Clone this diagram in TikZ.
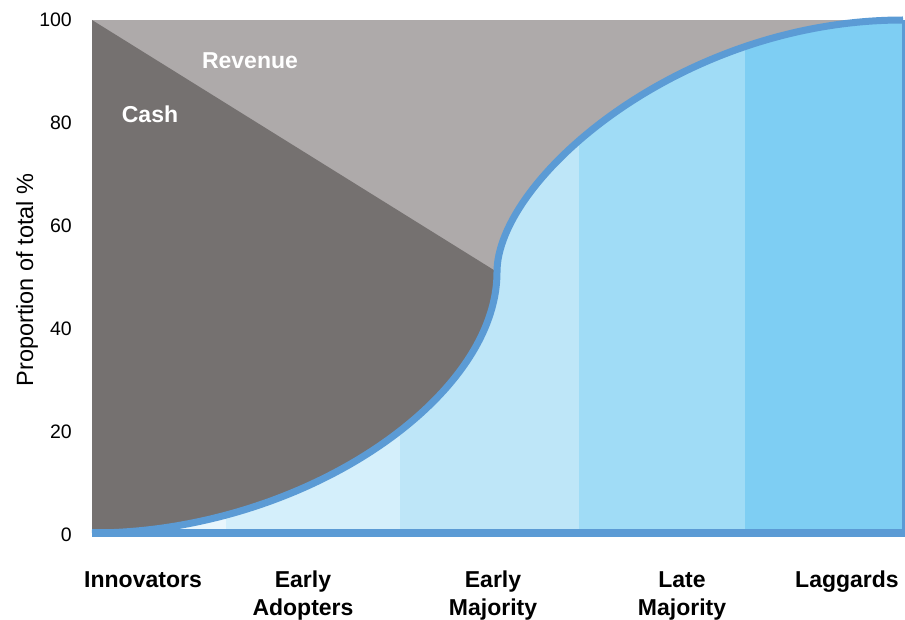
\documentclass[tikz,border=0pt]{standalone}
\usepackage{fontspec}
\setmainfont{Liberation Sans}
\definecolor{cashgray}{HTML}{757170}
\definecolor{revgray}{HTML}{AEAAAA}
\definecolor{curveblue}{HTML}{5B9BD5}
\definecolor{bandA}{HTML}{E9F6FC}
\definecolor{bandB}{HTML}{D4EFFB}
\definecolor{bandC}{HTML}{BEE6F8}
\definecolor{bandD}{HTML}{A0DCF6}
\definecolor{bandE}{HTML}{7ECEF3}
\begin{document}
\begin{tikzpicture}[x=1pt,y=-1pt,
    seglabel/.style={font=\bfseries\fontsize{23}{28}\selectfont,align=center,anchor=north,inner sep=0pt},
    ticklabel/.style={font=\fontsize{19.5}{22}\selectfont,anchor=east,inner sep=0pt},
    arealabel/.style={font=\bfseries\fontsize{23}{28}\selectfont,text=white,inner sep=0pt}]

    \useasboundingbox (0,0) rectangle (905,620);

    % revenue and cash areas
    \fill[revgray] (92,20) rectangle (903,533);
    \fill[cashgray] (92,20) -- (497,272) .. controls (497,400) and (300,533) .. (92,533) -- cycle;

    % adopter bands under the curve
    \begin{scope}
        \clip (92,533) .. controls (300,533) and (497,400) .. (497,272)
            .. controls (497,180) and (680,20) .. (903,20) -- (903,533) -- cycle;
        \foreach \xa/\xb/\col in {92/226/bandA,226/400/bandB,400/579/bandC,579/745/bandD,745/904/bandE}
            \fill[\col] (\xa,0) rectangle (\xb,540);
    \end{scope}

    \draw[line width=7pt,curveblue] (92,533) .. controls (300,533) and (497,400) .. (497,272)
        .. controls (497,180) and (680,20) .. (903,20);
    \draw[line width=3pt,curveblue] (903.5,20) -- (903.5,533);
    \draw[line width=8pt,curveblue] (92,533) -- (905,533);

    % axis
    \foreach \v in {0,20,...,100}
        \node[ticklabel] (tick\v) at (72,535-5.15*\v) {\v};
    \node[rotate=90,anchor=base,font=\fontsize{23.5}{28}\selectfont] (ylabel) at (33,280) {Proportion of total \%};

    \node[arealabel] (cash) at (150,114) {Cash};
    \node[arealabel] (revenue) at (250,61) {Revenue};

    \node[seglabel] (innov) at (143,571) {Innovators};
    \node[seglabel] (adopt) at (303,571) {Early\\Adopters};
    \node[seglabel] (earlymaj) at (493,571) {Early\\Majority};
    \node[seglabel] (latemaj) at (682,571) {Late\\Majority};
    \node[seglabel] (lagg) at (847,571) {Laggards};

\end{tikzpicture}
\end{document}
